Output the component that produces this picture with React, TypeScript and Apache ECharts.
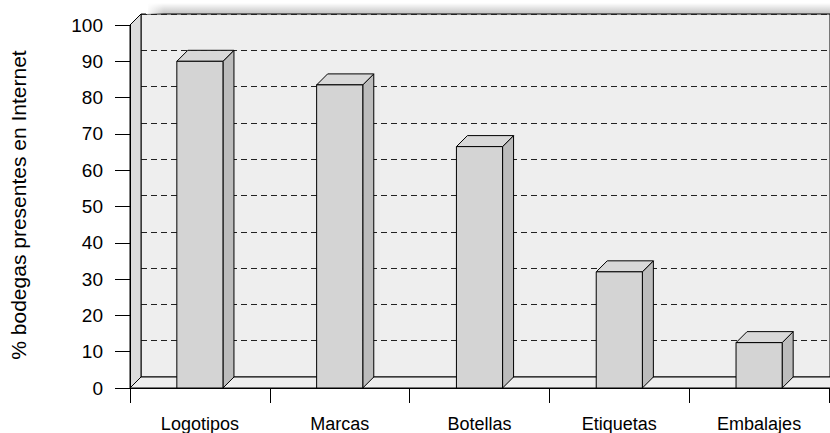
import React, { useEffect, useRef } from "react";
import * as echarts from "echarts";

const categories = ["Logotipos", "Marcas", "Botellas", "Etiquetas", "Embalajes"];
const values = [90, 83.5, 66.5, 32, 12.5];
const yMin = 0;
const yMax = 100;
const yInterval = 10;
const yTitle = "% bodegas presentes en Internet";

const FONT = "'Liberation Sans', Arial, sans-serif";
const DEPTH = 11;

export default function App() {
  const ref = useRef<HTMLDivElement>(null);
  useEffect(() => {
    if (!ref.current) return;
    const chart = echarts.init(ref.current, null, { renderer: "svg" });
    const option: any = {
      animation: false,
      textStyle: { fontFamily: FONT },
      grid: [
        { left: 130, right: 1, top: 25, bottom: 45, containLabel: false },
        {
          left: 141,
          right: -20,
          top: 14,
          bottom: 56,
          show: true,
          backgroundColor: "#eeeeee",
          borderColor: "#000",
          borderWidth: 1,
        },
      ],
      xAxis: [
        {
          gridIndex: 0,
          type: "category",
          data: categories,
          z: 10,
          axisLine: { show: true, lineStyle: { color: "#000", width: 1 } },
          axisTick: { show: true, length: 15, interval: 0, alignWithLabel: false, lineStyle: { color: "#000" } },
          axisLabel: { interval: 0, margin: 27, color: "#000", fontSize: 18, fontFamily: FONT },
          splitLine: { show: false },
        },
        {
          gridIndex: 1,
          type: "value",
          min: 0,
          max: 1,
          axisLine: { show: false },
          axisTick: { show: false },
          axisLabel: { show: false },
          splitLine: { show: false },
        },
      ],
      yAxis: [
        {
          gridIndex: 0,
          type: "value",
          min: yMin,
          max: yMax,
          interval: yInterval,
          z: 10,
          axisLine: { show: true, lineStyle: { color: "#000", width: 1 } },
          axisTick: { show: true, length: 15, lineStyle: { color: "#000" } },
          axisLabel: { margin: 27, color: "#000", fontSize: 19, fontFamily: FONT, padding: [0, 0, 5, 0] },
          splitLine: { show: false },
        },
        {
          gridIndex: 1,
          type: "value",
          min: yMin,
          max: yMax,
          interval: yInterval,
          axisLine: { show: false },
          axisTick: { show: false },
          axisLabel: { show: false },
          splitLine: { show: true, lineStyle: { color: "#222", width: 1, type: [6, 4] } },
        },
      ],
      graphic: [
        {
          type: "rect",
          z: 1,
          shape: { x: 148, y: 3, width: 690, height: 11 },
          style: {
            fill: new echarts.graphic.LinearGradient(0, 0, 0, 1, [
              { offset: 0, color: "rgba(0,0,0,0)" },
              { offset: 1, color: "rgba(0,0,0,0.24)" },
            ]),
          },
        },
        {
          type: "rect",
          z: 2,
          shape: { x: 146, y: 2, width: 18, height: 12 },
          style: {
            fill: new echarts.graphic.LinearGradient(0, 0, 1, 0, [
              { offset: 0, color: "rgba(255,255,255,1)" },
              { offset: 1, color: "rgba(255,255,255,0)" },
            ]),
          },
        },
        {
          type: "polygon",
          z: 3,
          shape: { points: [[130, 25], [141, 14], [141, 377], [130, 388]] },
          style: { fill: "#dddddd", stroke: "#000", lineWidth: 1 },
        },
        {
          type: "polygon",
          z: 3,
          shape: { points: [[130, 388], [141, 377], [845, 377], [834, 388]] },
          style: { fill: "#eeeeee", stroke: "#000", lineWidth: 1 },
        },
        {
          type: "text",
          z: 5,
          x: 18,
          y: 205,
          rotation: Math.PI / 2,
          style: {
            text: yTitle,
            fontSize: 21,
            fontFamily: FONT,
            fill: "#000",
            align: "center",
            verticalAlign: "middle",
          },
        },
      ],
      series: [
        {
          type: "custom",
          xAxisIndex: 0,
          yAxisIndex: 0,
          z: 5,
          encode: { x: 0, y: 1 },
          data: values.map((v, i) => [i, v]),
          renderItem: (params: any, api: any) => {
            const i = api.value(0);
            const v = api.value(1);
            const base = api.coord([i, 0]);
            const top = api.coord([i, v]);
            const cw = api.size([1, 0])[0];
            const w = cw * 0.33;
            const d = DEPTH;
            const x1 = base[0] - w / 2;
            const x2 = base[0] + w / 2;
            const y0 = base[1];
            const y1 = top[1];
            return {
              type: "group",
              children: [
                {
                  type: "polygon",
                  shape: { points: [[x2, y1], [x2 + d, y1 - d], [x2 + d, y0 - d], [x2, y0]] },
                  style: { fill: "#bcbcbc", stroke: "#000", lineWidth: 1 },
                },
                {
                  type: "polygon",
                  shape: { points: [[x1, y1], [x1 + d, y1 - d], [x2 + d, y1 - d], [x2, y1]] },
                  style: { fill: "#d8d8d8", stroke: "#000", lineWidth: 1 },
                },
                {
                  type: "rect",
                  shape: { x: x1, y: y1, width: w, height: y0 - y1 },
                  style: { fill: "#d4d4d4", stroke: "#000", lineWidth: 1 },
                },
              ],
            };
          },
        },
      ],
    };
    chart.setOption(option);
    return () => chart.dispose();
  }, []);
  return (
    <div
      ref={ref}
      style={{ position: "fixed", left: 0, top: 0, width: 830, height: 433, background: "#fff" }}
    />
  );
}
